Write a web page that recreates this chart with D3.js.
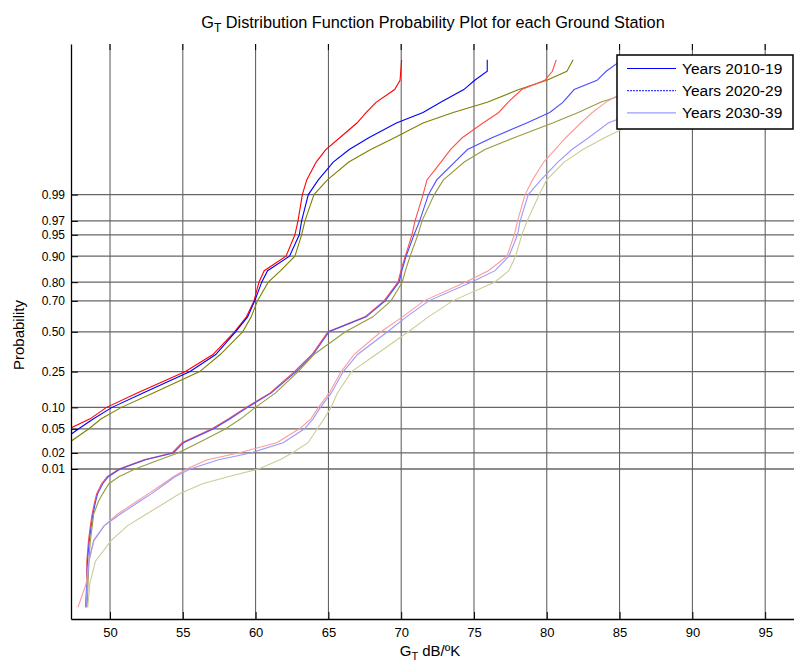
<!DOCTYPE html>
<html>
<head>
<meta charset="utf-8">
<script src="https://cdnjs.cloudflare.com/ajax/libs/d3/7.8.5/d3.min.js"></script>
<style>
body { margin: 0; background: #fff; }
svg text { font-family: Arial, "Liberation Sans", Helvetica, sans-serif; fill: #000; }
</style>
</head>
<body>
<div id="chart"></div>
<script>
// probability levels (plotting positions) shared by every curve
var probLevels = [0.0000015, 0.00001, 0.00005, 0.0002, 0.0005, 0.001, 0.002, 0.003, 0.005, 0.007,
    0.01, 0.015, 0.02, 0.03, 0.05, 0.07, 0.10, 0.15, 0.25, 0.35,
    0.50, 0.60, 0.70, 0.80, 0.85, 0.90, 0.95, 0.97, 0.99, 0.995,
    0.998, 0.999, 0.9995, 0.9998, 0.9999, 0.99995, 0.99998, 0.99999, 0.999995, 0.999998];

var yTicks = [0.01, 0.02, 0.05, 0.10, 0.25, 0.50, 0.70, 0.80, 0.90, 0.95, 0.97, 0.99];
var xTicks = [50, 55, 60, 65, 70, 75, 80, 85, 90, 95];
var legendLabels = ["Years 2010-19", "Years 2020-29", "Years 2030-39"];

// G_T (dB/K) read at each probability level, null = not plotted
var red1 = [null, null, null, null, null, null, null, null, null, null,
    null, null, null, null, 47.18, 48.63, 49.76, 51.87, 55.18, 57.07,
    58.55, 59.37, 59.89, 60.23, 60.59, 62.09, 62.70, 62.91, 63.21, 63.51,
    64.16, 64.82, 65.78, 66.96, 67.60, 68.27, 69.55, 69.92, 69.97, 70.03];
var blue1 = [null, null, null, null, null, null, null, null, null, null,
    null, null, null, 46.5, 47.85, 48.87, 50.14, 52.27, 55.50, 57.26,
    58.62, 59.45, 59.94, 60.42, 60.82, 62.33, 63.00, 63.16, 63.62, 64.31,
    65.33, 66.43, 67.77, 69.67, 71.50, 72.71, 74.30, 75.05, 75.91, 75.91];
var olive1 = [null, null, null, null, null, null, null, null, null, null,
    null, null, 46.1, 47.18, 48.55, 49.40, 50.78, 52.97, 56.16, 57.57,
    59.11, 59.70, 60.12, 60.87, 61.72, 62.70, 63.16, 63.39, 64.01, 64.93,
    66.40, 67.91, 69.54, 71.50, 73.57, 75.91, 78.08, 80.00, 81.38, 81.81];

var red2 = [48.35, 48.39, 48.41, 48.52, 48.65, 48.77, 48.95, 49.08, 49.42, 49.81,
    50.62, 52.33, 54.26, 54.94, 57.00, 58.15, 59.34, 61.00, 62.66, 63.87,
    64.97, 67.51, 68.82, 69.78, 69.98, 70.28, 70.74, 70.95, 71.50, 71.77,
    72.73, 73.38, 74.19, 75.62, 76.70, 77.33, 78.28, 79.86, 80.38, 80.65];
var blue2 = [48.33, 48.41, 48.45, 48.58, 48.71, 48.83, 49.01, 49.15, 49.50, 49.88,
    50.70, 52.45, 54.35, 55.05, 57.12, 58.25, 59.45, 61.08, 62.78, 63.95,
    65.05, 67.60, 68.90, 69.85, 70.05, 70.34, 70.88, 71.27, 71.87, 72.44,
    73.67, 74.55, 76.23, 78.62, 80.20, 81.10, 81.88, 83.45, 84.08, 85.16];
var olive2 = [48.43, 48.49, 48.55, 48.65, 48.78, 48.88, 49.20, 49.49, 49.92, 50.60,
    51.72, 53.40, 54.66, 56.08, 57.95, 58.98, 59.99, 61.37, 62.92, 64.00,
    66.17, 68.05, 69.30, 70.07, 70.29, 70.61, 71.15, 71.43, 72.27, 72.90,
    74.33, 75.75, 77.75, 80.40, 82.16, 83.69, 86.40, 88.12, 89.83, 90.86];

var red3 = [47.80, 48.37, 48.54, 48.90, 49.59, 50.53, 51.82, 52.62, 53.65, 54.35,
    55.26, 56.67, 58.82, 61.45, 63.01, 63.80, 64.31, 65.06, 65.88, 66.76,
    68.61, 70.09, 71.56, 74.40, 75.98, 77.27, 77.77, 77.99, 78.51, 79.02,
    79.79, 80.56, 81.30, 82.33, 83.13, 84.05, 85.58, 86.74, 87.77, 88.46];
var blue3 = [48.35, 48.43, 48.56, 48.87, 49.59, 50.71, 52.02, 52.83, 53.80, 54.46,
    55.51, 57.45, 59.66, 61.89, 63.36, 63.95, 64.45, 65.20, 66.02, 67.00,
    69.06, 70.36, 71.89, 74.81, 76.45, 77.40, 77.99, 78.17, 78.73, 79.60,
    80.76, 81.72, 82.87, 84.22, 86.06, 87.43, 88.80, 89.83, 90.86, 91.55];
var olive3 = [48.47, 48.62, 49.00, 50.07, 51.19, 52.51, 53.91, 54.77, 56.36, 58.10,
    60.20, 61.67, 62.51, 63.60, 64.24, 64.70, 65.18, 65.62, 66.59, 68.27,
    70.49, 71.87, 73.54, 76.41, 77.40, 77.85, 78.29, 78.65, 79.48, 79.99,
    81.19, 82.48, 83.97, 86.06, 87.77, 89.15, 90.52, 91.55, 92.44, 93.13];

var series = [
    { values: red1, color: "#ff0000" },
    { values: blue1, color: "#0000ff" },
    { values: olive1, color: "#808000" },
    { values: red2, color: "#ff4c4c" },
    { values: blue2, color: "#4c4cff" },
    { values: olive2, color: "#9a9a40" },
    { values: red3, color: "#ff9a9a" },
    { values: blue3, color: "#9a9aff" },
    { values: olive3, color: "#cccc98" }
];

var margin = { top: 44, right: 0, bottom: 43, left: 71 },
    width = 794 - margin.left - margin.right,
    height = 662 - margin.top - margin.bottom;

// inverse normal cdf (Acklam)
function probit(p) {
    var a = [-3.969683028665376e+01, 2.209460984245205e+02, -2.759285104469687e+02, 1.383577518672690e+02, -3.066479806614716e+01, 2.506628277459239e+00],
        b = [-5.447609879822406e+01, 1.615858368580409e+02, -1.556989798598866e+02, 6.680131188771972e+01, -1.328068155288572e+01],
        c = [-7.784894002430293e-03, -3.223964580411365e-01, -2.400758277161838e+00, -2.549732539343734e+00, 4.374664141464968e+00, 2.938163982698783e+00],
        d = [7.784695709041462e-03, 3.224671290700398e-01, 2.445134137142996e+00, 3.754408661907416e+00];
    var pl = 0.02425, q, r;
    if (p < pl) {
        q = Math.sqrt(-2 * Math.log(p));
        return (((((c[0] * q + c[1]) * q + c[2]) * q + c[3]) * q + c[4]) * q + c[5]) / ((((d[0] * q + d[1]) * q + d[2]) * q + d[3]) * q + 1);
    }
    if (p > 1 - pl) {
        q = Math.sqrt(-2 * Math.log(1 - p));
        return -(((((c[0] * q + c[1]) * q + c[2]) * q + c[3]) * q + c[4]) * q + c[5]) / ((((d[0] * q + d[1]) * q + d[2]) * q + d[3]) * q + 1);
    }
    q = p - 0.5;
    r = q * q;
    return (((((a[0] * r + a[1]) * r + a[2]) * r + a[3]) * r + a[4]) * r + a[5]) * q / (((((b[0] * r + b[1]) * r + b[2]) * r + b[3]) * r + b[4]) * r + 1);
}

var x = d3.scaleLinear()
    .domain([47.32, 97])
    .range([0, 723.3]);

var y = d3.scaleLinear()
    .domain([-4.87, 4.88])
    .range([height, 0]);

var svg = d3.select("#chart").append("svg")
    .attr("width", 794)
    .attr("height", 662);

var g = svg.append("g")
    .attr("transform", "translate(" + margin.left + "," + margin.top + ")");

svg.append("defs").append("clipPath")
    .attr("id", "plotclip")
    .append("rect")
    .attr("width", width)
    .attr("height", height);

// grid
g.selectAll("line.vgrid")
    .data(xTicks)
    .enter().append("line")
    .attr("class", "vgrid")
    .attr("x1", function (d) { return x(d); })
    .attr("x2", function (d) { return x(d); })
    .attr("y1", 0)
    .attr("y2", height)
    .style("stroke", "#555")
    .style("stroke-width", 1);

g.selectAll("line.hgrid")
    .data(yTicks)
    .enter().append("line")
    .attr("class", "hgrid")
    .attr("x1", 0)
    .attr("x2", width)
    .attr("y1", function (d) { return y(probit(d)); })
    .attr("y2", function (d) { return y(probit(d)); })
    .style("stroke", "#666")
    .style("stroke-width", 1.3);

// top tick marks
g.selectAll("line.toptick")
    .data(xTicks)
    .enter().append("line")
    .attr("class", "toptick")
    .attr("x1", function (d) { return x(d); })
    .attr("x2", function (d) { return x(d); })
    .attr("y1", 0)
    .attr("y2", 6)
    .style("stroke", "#000");

// curves
var line = d3.line()
    .defined(function (d) { return d.g != null; })
    .x(function (d) { return x(d.g); })
    .y(function (d) { return y(probit(d.p)); });

var curves = g.append("g").attr("clip-path", "url(#plotclip)");

series.forEach(function (s) {
    var pts = probLevels.map(function (p, i) {
        return { p: p, g: s.values[i] };
    });
    curves.append("path")
        .datum(pts)
        .attr("d", line)
        .style("fill", "none")
        .style("stroke", s.color)
        .style("stroke-width", 1.1);
});

// axes
var xAxis = d3.axisBottom(x)
    .tickValues(xTicks)
    .tickSizeInner(-7)
    .tickSizeOuter(0)
    .tickPadding(9);

var yAxis = d3.axisLeft(y)
    .tickValues(yTicks.map(probit))
    .tickFormat(function (d, i) { return d3.format(".2f")(yTicks[i]); })
    .tickSizeInner(-7)
    .tickSizeOuter(0)
    .tickPadding(6);

var gx = g.append("g")
    .attr("class", "x axis")
    .attr("transform", "translate(0," + height + ")")
    .call(xAxis)
    .attr("font-size", 13)
    .attr("font-family", "Arial, 'Liberation Sans', sans-serif");

var gy = g.append("g")
    .attr("class", "y axis")
    .call(yAxis)
    .attr("font-size", 12)
    .attr("font-family", "Arial, 'Liberation Sans', sans-serif");

[gx, gy].forEach(function (ax) {
    ax.select(".domain").style("stroke", "#000").style("stroke-width", 1.3);
    ax.selectAll(".tick line").style("stroke", "#000");
    ax.selectAll(".tick text").attr("fill", "#000");
});

// title
var title = svg.append("text")
    .attr("x", 433)
    .attr("y", 28)
    .style("text-anchor", "middle")
    .style("font-size", "16.3px");
title.append("tspan").text("G");
title.append("tspan").attr("dy", 4).style("font-size", "12px").text("T");
title.append("tspan").attr("dy", -4).text(" Distribution Function Probability Plot for each Ground Station");

// x label
var xl = svg.append("text")
    .attr("x", 430)
    .attr("y", 656)
    .style("text-anchor", "middle")
    .style("font-size", "15px");
xl.append("tspan").text("G");
xl.append("tspan").attr("dy", 4).style("font-size", "11px").text("T");
xl.append("tspan").attr("dy", -4).text(" dB/ºK");

// y label
svg.append("text")
    .attr("transform", "translate(24,335) rotate(-90)")
    .style("text-anchor", "middle")
    .style("font-size", "15px")
    .text("Probability");

// legend
var legend = svg.append("g").attr("transform", "translate(617,55)");
legend.append("rect")
    .attr("width", 176)
    .attr("height", 74)
    .style("fill", "#fff")
    .style("stroke", "#000")
    .style("stroke-width", 1.5);

var legendStyles = [
    { color: "#0000ff", dash: null },
    { color: "#3c3cff", dash: "2,1" },
    { color: "#9a9aff", dash: null }
];

legend.selectAll("g.item")
    .data(legendLabels)
    .enter().append("g")
    .attr("class", "item")
    .attr("transform", function (d, i) { return "translate(0," + (13.5 + i * 22.2) + ")"; })
    .each(function (d, i) {
        var it = d3.select(this);
        it.append("line")
            .attr("x1", 10)
            .attr("x2", 59)
            .style("stroke", legendStyles[i].color)
            .style("stroke-width", 1.2)
            .style("stroke-dasharray", legendStyles[i].dash);
        it.append("text")
            .attr("x", 65)
            .attr("dy", "0.36em")
            .style("font-size", "15.5px")
            .text(d);
    });
</script>
</body>
</html>
